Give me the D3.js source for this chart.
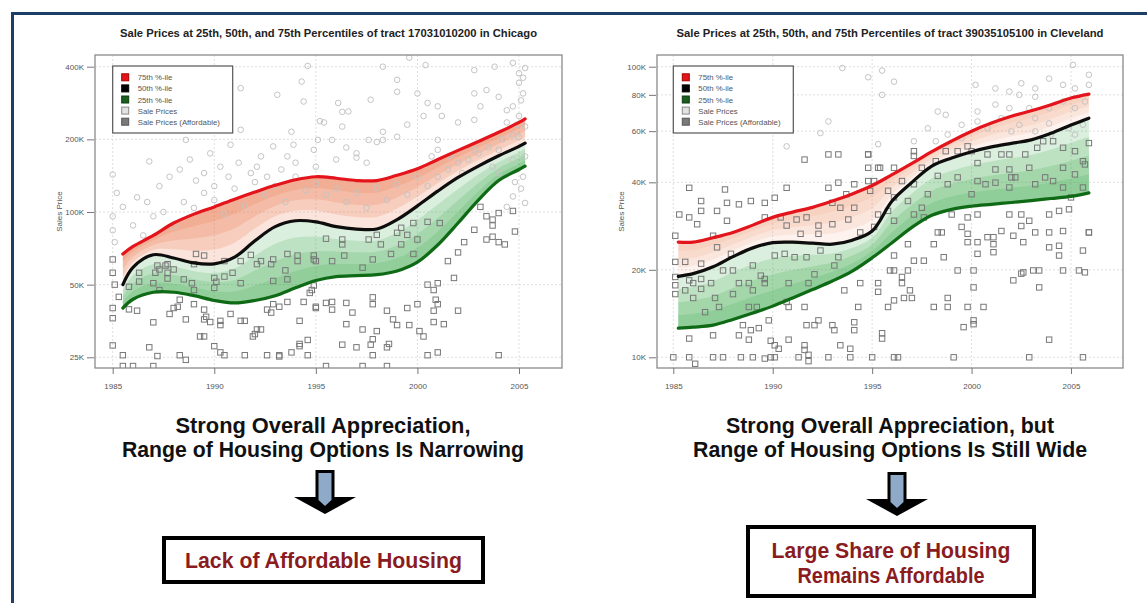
<!DOCTYPE html>
<html>
<head>
<meta charset="utf-8">
<script src="https://cdn.jsdelivr.net/npm/d3@7"></script>
<style>
  body { margin: 0; background: #fff; }
  svg { display: block; }
</style>
</head>
<body>
<svg id="chart" width="1147" height="603"></svg>
<script>
// ---------- Chicago tract 17031010200 (prices in $K) ----------
const chicagoYears = [1985.5, 1986, 1987, 1988, 1989, 1990, 1991, 1992, 1993, 1994, 1995,
                      1996, 1997, 1998, 1999, 2000, 2001, 2002, 2003, 2004, 2005, 2005.3];
const chicagoP75 = [67, 72, 80, 90, 98, 105, 113, 121, 129, 136, 140,
                    138, 135, 135, 142, 151, 165, 180, 196, 214, 235, 243];
const chicagoP50 = [50, 59, 66.5, 64.5, 61.5, 61, 65, 76, 87, 92, 91,
                    87, 85, 85, 93, 106, 122, 139, 155, 171, 187, 193];
const chicagoP25 = [40, 43.5, 46.5, 46.5, 45, 43, 42, 43, 45, 48.5, 52,
                    54, 54.5, 55, 57, 62, 73, 90, 112, 135, 150, 155];

const chicagoSales = [
  [1985,143],[1985,96],[1985,84],[1985.1,75],[1985.5,105],[1985.2,120],[1986.2,115],[1986.7,110],
  [1986.8,162],[1987.3,128],[1987.8,140],[1988.3,150],[1988.6,199],[1988.8,165],[1989.1,135],
  [1989.5,145],[1989.8,175],[1990,128],[1990.3,154],[1990.7,140],[1990.8,190],[1991.2,160],
  [1991.3,219],[1991.3,326],[1991.8,145],[1992.1,154],[1992.3,170],[1992.6,140],[1992.9,187],
  [1993.1,306],[1993.3,150],[1993.6,170],[1993.8,215],[1993.9,190],[1994,160],[1994.3,347],
  [1994.4,287],[1994.6,403],[1994.9,181],[1995,154],[1995.1,199],[1995.2,238],
  [1986,88],[1986.5,80],[1987,96],[1987.5,100],[1988,87],[1988.5,110],[1989,104],[1989.5,120],
  [1990,112],[1990.5,98],[1991,125],[1991.5,106],[1992,133],[1992.5,118],[1993,128],[1993.5,110],
  [1994,140],[1994.5,123],[1995,131],[1995.5,118],[1996,125],[1996.5,110],[1997,120],[1997.5,104],
  [1998,126],[1998.5,112],[1999,130],[1999.5,118],[2000,140],
  [1996,165],[1996.5,185],[1997,175],[1997.5,160],[1998,195],[1998.3,215],[1999,205],[1999.5,230],
  [1996.3,260],[1997.7,292],[1998.3,400],[1999.6,436],[1999,315],[1999,353],[2000,310],[2000.5,283],
  [2001,274],[2000.3,250],[2001.2,250],[2002,235],[2002.8,241],[2003.1,274],[2003.4,320],[2002.8,310],
  [2002.8,387],[2003.8,400],[2004,300],[2004.4,264],[2004.7,415],[2004.7,274],[2005,376],[2005,343],
  [2005.2,310],[2005,250],[2005.3,226],[2005,205],[2004.7,208],[2004.4,235],[2000.4,406],[2001,199],
  [2001,181],[2001.6,171],[2000.7,170],[2002.8,181],[2004,181],[2004.7,165],[2005.3,170],[2003.7,154],
  [2004,145],[2004.8,133],[2004.7,116],[2004.4,105],[2005.3,109],[1998.3,199],[1997.6,199],[1997,168],
  [1996.3,226],[1995.8,199],[1995.4,235],[1996.6,261],[1996.1,283],[2005.1,290],[2005.2,360],
  [2005.3,395],[2004.9,230],[2005.2,140],[2005.1,125],
  [2001,140],[2001.5,150],[2002,160],[2002.5,165],[2003,175],[2003.5,185],[2004.2,200],[2002.2,145],[2000.5,128]
];

const chicagoAffordable = [
  [1985,63.6],[1985,56],[1985.1,50],[1985.3,44.5],[1985,40],[1985,36.3],[1985,28],[1985.5,25.5],
  [1985.5,23],[1986,23],[1985.8,39.5],[1986.2,39],[1986.3,51.5],[1986.3,56],[1985.8,49],[1987,50.7],
  [1987.1,56],[1987.2,60],[1987.6,60],[1987.7,56],[1987.7,53],[1987.3,47.5],[1987,34.9],[1986.8,27.5],
  [1987.2,25.3],[1987,23],[1987.8,37.8],[1988,40],[1988.2,40.5],[1988.3,43.3],[1988.5,52.6],[1988,57.8],
  [1988.9,50.7],[1989,47.5],[1988.6,35.9],[1989,41.5],[1989.5,39.4],[1989.5,35.9],[1989.6,36.8],
  [1989.8,35],[1990.3,35.4],[1990.3,34],[1990,53.3],[1990,48.5],[1990.1,51.4],[1990.5,54],[1990.9,56],
  [1991.3,50.7],[1990.8,37.8],[1991.3,35.4],[1991.5,35.4],[1989.3,30.5],[1989.5,30.5],[1990,27.8],
  [1990.3,26.2],[1990.5,25.5],[1988.3,25.5],[1988.6,24.4],[1991.5,25.5],[1991.9,30.5],[1992.1,32.6],
  [1992,31.2],[1992.3,32.6],[1992.6,25.5],[1993.2,25.5],[1993.2,25.2],[1993.8,26.2],[1994.2,28.4],
  [1994.6,29.5],[1994.2,27.8],[1994.6,25.5],[1992.8,38.3],[1992.6,39.4],[1992.9,41.5],[1993.2,40.5],
  [1993.6,42.4],[1994.2,35.4],[1994.4,42.4],[1994.7,46.2],[1995,40.5],[1994.9,49.6],
  [1991.8,66.4],[1992.1,60.8],[1992.8,60.8],[1992.9,63.6],[1993.6,67],[1994.1,66],[1994.1,62.6],
  [1994.9,63.6],[1995,62.6],[1993.5,57.3],[1993.6,52.6],[1992.9,51.8],[1992.3,62.6],[1991.3,62.6],
  [1990.5,62.6],[1989.1,67],[1989.5,66],[1989,60.8],[1987.7,60.8],[1987.3,57.8],
  [1995.5,77.5],[1996.3,76.9],[1996.3,73.4],[1997.6,76.9],[1998,80.4],[1998.2,73.4],[1999,82],
  [1999.5,80.4],[1999.2,73.4],[2000,76.9],[1999.8,67],[1998.7,67],[1997.8,63.6],[1997.3,58.8],
  [1996.4,66],[1995.8,62.6],[1994.9,66],[1994.8,47.5],[1995,40],[1995.5,42],[1995.8,42.4],[1995.8,39.4],
  [1996.5,42],[1996.8,38.3],[1996.5,34.3],[1996.3,28.2],[1997,27.5],[1997.3,32.6],[1997.8,44.3],
  [1997.8,41.5],[1998,32.1],[1997.8,29.7],[1997.7,28.2],[1997.8,25.5],[1998.5,39],[1998.6,28.4],
  [1998.5,27.5],[1998.8,35.9],[1999,34],[1999.5,40],[1999.6,34],[2000.1,32.1],[2000.3,30.5],
  [2000.5,25.5],[2001,26.2],[2000.8,47.5],[2000.9,43.3],[2001,41.5],[2000.8,39],[2000.8,35],
  [2001.3,34.3],[2000,41.5],[2000.5,50],[2001,50.7],[2001.8,53.3],[2001.5,62.6],[2002,68],[2002.3,75],
  [2002,39],[2002.8,84.4],[2003.4,76.9],[2003.7,79],[2004,75],[2004.3,73.4],[2004.8,83],[2004,25.5],
  [1995.5,23],[1997.3,23],[1998.5,23],
  [2003.1,105],[2003.4,96],[2003.7,93],[2004,99],[2004.7,101],[2003.7,87.9],[2001.1,90],[2000.5,91],
  [1999.2,86],[1999.8,90]
];

// ---------- Cleveland tract 39035105100 (prices in $K) ----------
const clevelandYears = [1985.25, 1986, 1987, 1988, 1989, 1990, 1991, 1992, 1993, 1994, 1995,
                        1996, 1997, 1998, 1999, 2000, 2001, 2002, 2003, 2004, 2005, 2005.9];
const clevelandP75 = [24.9, 24.9, 25.8, 26.9, 28.5, 30.3, 31.6, 32.8, 34.5, 36.5, 39,
                      42.5, 46.5, 51, 55.5, 60, 64, 67.5, 70.5, 74, 78, 80.5];
const clevelandP50 = [19, 19.4, 20.5, 22.2, 23.8, 24.8, 24.9, 24.7, 24.5, 25.3, 27.2,
                      34.5, 40, 45.5, 48.5, 51, 53, 54.5, 56, 59, 63, 66.5];
const clevelandP25 = [12.6, 12.7, 12.9, 13.5, 14.2, 15, 16, 17.1, 18.3, 19.8, 22,
                      24.8, 28, 30.8, 32.3, 33.1, 33.6, 34.1, 34.6, 35.2, 35.8, 36.8];

const clevelandSales = [
  [1996.1,88.8],[2000.2,86.6],[2001.2,84.2],[2001.9,82.1],[2002.5,87.7],[2003.2,84.2],[2003.9,91],
  [2004.6,86.6],[2005.2,84.2],[2005.1,101.5],[2005.9,93.8],[2005.9,86.6],[2002.4,80],[2003.2,78.8],
  [2004.6,75.9],[2003.9,72],[2002.9,72],[2001.9,72],[2001.2,74.1],[2000.3,70.1],[1998.3,70.1],
  [1998.7,68.3],[1999.5,63.1],[2000.3,64.8],[2001.5,66.5],[2002.4,63.1],[2003.2,66.5],[2003.9,63.8],
  [2004.9,61.4],[2005.6,63.1],[2005.7,75.9],[2005.2,72],[1997.8,61.4],[1998.8,58.4],[1997.1,55.4],
  [1998.2,55.4],[1999.5,56.7],[2000.8,61.4],[2002,59.9],[2003.2,59.9],[2004,58.4],[2005.2,58.4],
  [1990.7,86.6],[1992.8,64.8],[1992.4,59.1],[1990.7,53.2],[1995.3,54.1],[1995.5,80],[1993.5,99],
  [1994.8,92],[1995.5,97],[1990.5,97]
];

const clevelandAffordable = [
  [1985.8,38.3],[1985.3,31],[1985.8,30.3],[1985.1,26.2],[1986.4,34.5],[1986.4,31.9],[1986.2,28.7],
  [1987.2,31.9],[1987.7,29.5],[1987,26.2],[1987.7,34],[1987.6,37.8],[1988.3,33.6],[1988.9,34.5],
  [1989.6,34],[1990.1,35.4],[1990.7,38.3],[1989.6,30.3],[1990.4,30.3],[1990.7,28.4],[1991.2,29.8],
  [1991.7,30.3],[1991.4,26.6],[1992.3,28.4],[1992.8,38.3],[1993.3,39.9],[1993,34],[1993.7,36.4],
  [1994.1,39.4],[1994.8,40.4],[1994.8,44.9],[1995.4,44.9],[1991.6,47.9],[1992.8,49.9],[1993.3,49.9],
  [1994.8,49.9],[1993.4,32.7],[1994.1,32.7],[1993,28.7],[1993.8,29.8],[1994.4,26.9],[1992.3,26.6],
  [1985.1,21.3],[1985.1,18.9],[1985.1,17.7],[1985.1,16.5],[1985.6,17],[1985.8,18.4],[1986.4,17.2],
  [1986,16],[1985.8,11.6],[1985,10],[1985.8,10],[1986.1,9.5],[1987,10],[1987.5,10],[1988.4,10],
  [1989,10],[1989.6,9.9],[1989.9,10],[1990.1,10],[1991.3,10],[1991.8,10.2],[1991.8,9.7],[1992.8,10],
  [1993.9,10],[1987,11.9],[1988.3,11.9],[1988.8,11.5],[1988.5,12.9],[1989.3,12.6],[1989.9,11.4],
  [1990.1,11],[1990.3,10.7],[1990.8,11.5],[1991.6,11],[1991.6,10.6],[1991.7,12.9],[1992.1,12.9],
  [1992.3,13.4],[1993,12.9],[1993.1,12.4],[1993.4,11],[1993.9,10.7],[1994.1,13.2],[1994.1,12.4],
  [1990.7,15.5],[1990.8,14.9],[1991.6,14.9],[1989.8,13.4],[1988.9,12.4],
  [1986,18],[1986.9,18],[1987.1,16],[1986.6,14.3],[1987.3,14.9],[1988,16.5],[1988.3,18],[1988.8,18],
  [1989,17],[1988.8,14.9],[1989.2,14.9],[1989.4,19.1],[1989.6,18.6],[1989.6,18],[1990.8,18],
  [1992.1,19.3],[1991.8,18],[1993.1,20.7],[1993.3,22.1],[1993.6,17],[1994.4,18],[1994.3,14.9],
  [1991.7,22.1],[1992.4,23.3],[1991.1,22.1],[1990.6,22.7],[1990.1,22.4],[1989,20.7],[1988,19.9],
  [1987.5,19.9],[1986.4,21],[1986.4,18.6],[1985.6,21.3],[1987.2,23.9],[1987.9,22.7],
  [1994.8,49.9],[1995.3,44.9],[1996.1,44.9],[1997.1,51.2],[1997.1,49.3],[1998.7,51.2],[1999.3,51.2],
  [1999.8,53.2],[2000,51.2],[2000.3,46.6],[2000.8,49.9],[2001.5,49.9],[2001.9,49.9],[2002.7,49.9],
  [2003.3,52.6],[2003.6,55.4],[2004.1,55.4],[2004.6,52.6],[2005.2,51.2],[2005.9,54.6],[2005.6,47.3],
  [2005.7,46.1],[2001.9,44.3],[2001.2,44.3],[2002.9,44.9],[2003.7,41.6],[2004.6,44.9],[2005.2,42.6],
  [2004.6,38.4],[2002,41.6],[2002.2,41.6],[2003.2,39.4],[2004.1,40.4],[2005,35.5],[2005.6,38.4],
  [2001.9,38.4],[2001.2,39.9],[2000.3,40.4],[2000,36.4],[2000.7,39.4],[1999.3,41.6],[1998.8,39.4],
  [1998.3,42.1],[1998.2,47.3],[1997.5,44.9],[1997.8,36.4],[1997.1,39.4],[1996.5,40.4],[1995.8,37.4],
  [1995.1,40.4],[1994.9,37.4],[1996.8,34.5],[1996.1,35.5],[1997.5,32.7],[1997.1,31],[1997.6,30.3],
  [1995.8,31.9],[1995.3,31],[1995.1,28.1],[1996.1,29.5],[1999,31],[1999.5,28.1],[1999.8,30.3],
  [2000.3,31],[2001.9,31],[2002.5,31],[2002.9,29.5],[2003.9,31],[2004.4,31.9],[2004.9,32.3],
  [2001.5,27.2],[2002.5,28.3],[2003.2,26.9],[2003.9,26.9],[2004.6,27.2],[2005.9,26.9],[2000.8,25.9],
  [1999.8,26.6],[1998.5,26.9],
  [1996.1,22.4],[1997.1,21.5],[1997.6,21.5],[1998.6,22.1],[1998.1,24.5],[1996.8,24.5],[1998.3,26.9],
  [1999.8,24.9],[2000.3,24.9],[2001.1,25.9],[2001.1,24.5],[2000.3,22.7],[2001.1,23],[2002.1,26.2],
  [2002.6,24.9],[2003.9,23.9],[2004.4,24.2],[2004.4,22.4],[2005.6,23.3],[2005.9,26.9],[1995.9,19.9],
  [1996.1,19.9],[1996.8,19.9],[1996.5,18.9],[1996.5,18],[1996.9,17],[1996.1,15.7],[1996.6,16],
  [1997,16],[1995.8,14.9],[1995.3,18],[1995.3,16.8],[1995.5,12.1],[1995.5,11.6],[1995,10],[1996.1,10],
  [1996.3,10],[1999.1,10],[2002.9,10],[2005.6,10],[1999.3,19.9],[2000.1,19.9],[2000.1,17.4],
  [1998.8,16],[1998.8,14.9],[1998.1,14.9],[1999.8,14.9],[2000.6,14.9],[1999.6,12.7],[2000.1,13],
  [2000.1,13.4],[2002.1,18.4],[2002.5,19.4],[2002.6,19.6],[2003.1,19.9],[2003.4,19.9],[2003.4,17.4],
  [2004.6,19.9],[2005.4,19.9],[2005.7,19.6],[2003.9,11.5]
];

// ---------- shared axis / legend text ----------
const xTickYears = [1985, 1990, 1995, 2000, 2005];
const chicagoYTicks = [25, 50, 100, 200, 400];
const clevelandYTicks = [10, 20, 40, 60, 80, 100];
const legendLabels = ["75th %-ile", "50th %-ile", "25th %-ile", "Sale Prices", "Sale Prices (Affordable)"];

const panels = [
  {
    id: "chi",
    title: "Sale Prices at 25th, 50th, and 75th Percentiles of tract 17031010200 in Chicago",
    titleWidth: 417,
    years: chicagoYears, p75: chicagoP75, p50: chicagoP50, p25: chicagoP25,
    sales: chicagoSales, affordable: chicagoAffordable,
    yTicks: chicagoYTicks, yDomain: [25, 400],
    box: { x0: 95, x1: 562, y0: 55, y1: 368 },
    xRange: [112.7, 519], yRange: [357.3, 66.7],
    orange: { color: "#ec7a4c", opacity: 0.2 },
    green: { color: "#3aa84a", opacity: 0.18 }
  },
  {
    id: "cle",
    title: "Sale Prices at 25th, 50th, and 75th Percentiles of tract 39035105100 in Cleveland",
    titleWidth: 427,
    years: clevelandYears, p75: clevelandP75, p50: clevelandP50, p25: clevelandP25,
    sales: clevelandSales, affordable: clevelandAffordable,
    yTicks: clevelandYTicks, yDomain: [10, 100],
    box: { x0: 657, x1: 1123, y0: 55, y1: 368 },
    xRange: [673.3, 1071], yRange: [357.3, 66.7],
    orange: { color: "#f08a5c", opacity: 0.11 },
    green: { color: "#3aa84a", opacity: 0.19 }
  }
];

const svg = d3.select("#chart");
const FONT = "'Liberation Sans', Arial, Helvetica, sans-serif";

// outer frame
svg.append("path")
  .attr("d", "M12.5,610 L12.5,13.5 L1160,13.5")
  .attr("fill", "none").attr("stroke", "#1d3f66").attr("stroke-width", 3);

panels.forEach(p => {
  const g = svg.append("g");
  const b = p.box;
  const x = d3.scaleLinear().domain([1985, 2005]).range(p.xRange);
  const y = d3.scaleLog().domain(p.yDomain).range(p.yRange);

  // chart title
  g.append("text")
    .attr("x", (b.x0 + b.x1) / 2).attr("y", 37)
    .attr("text-anchor", "middle")
    .attr("font-family", FONT).attr("font-size", 10).attr("font-weight", "bold")
    .attr("fill", "#222")
    .attr("textLength", p.titleWidth).attr("lengthAdjust", "spacingAndGlyphs")
    .text(p.title);

  // clip to the plot box
  g.append("clipPath").attr("id", "clip-" + p.id)
    .append("rect").attr("x", b.x0).attr("y", b.y0)
    .attr("width", b.x1 - b.x0).attr("height", b.y1 - b.y0);

  // grid
  const grid = g.append("g").attr("stroke", "#dedede").attr("stroke-width", 1)
    .attr("stroke-dasharray", "2,2");
  grid.selectAll("line.h").data(p.yTicks).join("line")
    .attr("x1", b.x0).attr("x2", b.x1)
    .attr("y1", d => y(d)).attr("y2", d => y(d));
  grid.selectAll("line.v").data(xTickYears).join("line")
    .attr("y1", b.y0).attr("y2", b.y1)
    .attr("x1", d => x(d)).attr("x2", d => x(d));

  const plot = g.append("g").attr("clip-path", `url(#clip-${p.id})`);

  // shaded quantile bands: stacked translucent layers, densest near the outer quantile line
  const mix = (a, c, f) => Math.exp(Math.log(a) + (Math.log(c) - Math.log(a)) * f);
  const idx = d3.range(p.years.length);
  const layers = [0.25, 0.5, 0.75, 1.0];
  layers.forEach(f => {
    plot.append("path")
      .datum(idx)
      .attr("fill", p.orange.color).attr("fill-opacity", p.orange.opacity)
      .attr("d", d3.area().curve(d3.curveCatmullRom)
        .x(i => x(p.years[i]))
        .y0(i => y(p.p75[i]))
        .y1(i => y(mix(p.p75[i], p.p50[i], f))));
    plot.append("path")
      .datum(idx)
      .attr("fill", p.green.color).attr("fill-opacity", p.green.opacity)
      .attr("d", d3.area().curve(d3.curveCatmullRom)
        .x(i => x(p.years[i]))
        .y0(i => y(p.p25[i]))
        .y1(i => y(mix(p.p25[i], p.p50[i], f))));
  });

  // sale prices (non-affordable) as light circles
  plot.append("g").selectAll("circle").data(p.sales).join("circle")
    .attr("cx", d => x(d[0])).attr("cy", d => y(d[1])).attr("r", 2.8)
    .attr("fill", "none").attr("stroke", "#c4c4c4").attr("stroke-width", 1);

  // affordable sale prices as darker squares
  plot.append("g").selectAll("rect").data(p.affordable).join("rect")
    .attr("x", d => x(d[0]) - 2.7).attr("y", d => y(d[1]) - 2.7)
    .attr("width", 5.4).attr("height", 5.4)
    .attr("fill", "none").attr("stroke", "#777").attr("stroke-width", 1);

  // quantile lines
  const series = [
    { vals: p.p75, color: "#e3141b" },
    { vals: p.p50, color: "#0d0d0d" },
    { vals: p.p25, color: "#0f6a16" }
  ];
  series.forEach(s => {
    plot.append("path").datum(idx)
      .attr("fill", "none").attr("stroke", s.color).attr("stroke-width", 3.2)
      .attr("stroke-linecap", "round")
      .attr("d", d3.line().curve(d3.curveCatmullRom)
        .x(i => x(p.years[i])).y(i => y(s.vals[i])));
  });

  // plot frame
  g.append("rect").attr("x", b.x0).attr("y", b.y0)
    .attr("width", b.x1 - b.x0).attr("height", b.y1 - b.y0)
    .attr("fill", "none").attr("stroke", "#8a8a8a").attr("stroke-width", 1.3);

  // axes
  const yAxis = g.append("g").attr("transform", `translate(${b.x0 - 1},0)`)
    .call(d3.axisLeft(y).tickValues(p.yTicks).tickFormat(d => d + "K").tickSize(7).tickPadding(3));
  const xAxis = g.append("g").attr("transform", `translate(0,${b.y1})`)
    .call(d3.axisBottom(x).tickValues(xTickYears).tickFormat(d3.format("d")).tickSize(6).tickPadding(9));
  [yAxis, xAxis].forEach(a => {
    a.select(".domain").remove();
    a.selectAll("line").attr("stroke", "#777");
    a.selectAll("text").attr("font-family", FONT).attr("font-size", 8).attr("fill", "#555");
  });

  // y-axis title
  g.append("text")
    .attr("transform", `translate(${b.x0 - 33},${(b.y0 + b.y1) / 2}) rotate(-90)`)
    .attr("text-anchor", "middle")
    .attr("font-family", FONT).attr("font-size", 8).attr("fill", "#555")
    .text("Sales Price");

  // legend
  const lx = x(1985), ly = 66;
  const leg = g.append("g");
  leg.append("rect").attr("x", lx).attr("y", ly).attr("width", 120).attr("height", 67)
    .attr("fill", "#fff").attr("stroke", "#555").attr("stroke-width", 1.2);
  const sym = [
    { fill: "#e3141b", stroke: "#a00" },
    { fill: "#000", stroke: "#000" },
    { fill: "#1b5e20", stroke: "#0f3d12" },
    { fill: "#e2e2e2", stroke: "#8a8a8a" },
    { fill: "#7a7a7a", stroke: "#555" }
  ];
  legendLabels.forEach((lab, i) => {
    const cy = ly + 11.3 + i * 11.1;
    leg.append("rect").attr("x", lx + 9).attr("y", cy - 3.5).attr("width", 7).attr("height", 7)
      .attr("fill", sym[i].fill).attr("stroke", sym[i].stroke).attr("stroke-width", 1);
    leg.append("text").attr("x", lx + 25).attr("y", cy + 3)
      .attr("font-family", FONT).attr("font-size", 7.8).attr("fill", "#555").text(lab);
  });
});

// ---------- commentary beneath the charts ----------
const NARROW = "'Liberation Sans Narrow', 'Arial Narrow', 'Liberation Sans', Arial, sans-serif";
const captions = [
  { cx: 323, lines: [
      { t: "Strong Overall Appreciation,", y: 433, w: 295 },
      { t: "Range of Housing Options Is Narrowing", y: 457, w: 402 } ] },
  { cx: 890, lines: [
      { t: "Strong Overall Appreciation, but", y: 433, w: 328 },
      { t: "Range of Housing Options Is Still Wide", y: 457, w: 394 } ] }
];
captions.forEach(c => c.lines.forEach(l => {
  svg.append("text").attr("x", c.cx).attr("y", l.y)
    .attr("text-anchor", "middle").attr("font-family", NARROW)
    .attr("font-size", 22).attr("font-weight", "bold").attr("fill", "#111")
    .attr("textLength", l.w).attr("lengthAdjust", "spacingAndGlyphs")
    .text(l.t);
}));

// block arrows
const arrows = [{ cx: 325, top: 470 }, { cx: 897, top: 472 }];
arrows.forEach(a => {
  const c = a.cx, t = a.top;
  svg.append("path")
    .attr("d", `M${c - 9.5},${t} L${c + 9.5},${t} L${c + 9.5},${t + 27} L${c + 31},${t + 27}
               L${c},${t + 44} L${c - 31},${t + 27} L${c - 9.5},${t + 27} Z`)
    .attr("fill", "#000");
  svg.append("path")
    .attr("d", `M${c - 6.5},${t + 3} L${c + 6.5},${t + 3} L${c + 6.5},${t + 30}
               L${c},${t + 36} L${c - 6.5},${t + 30} Z`)
    .attr("fill", "#8fa9c9");
});

// conclusion boxes
const boxes = [
  { x: 164, y: 538, w: 319, h: 44, lines: [{ t: "Lack of Affordable Housing", y: 568, w: 277 }] },
  { x: 748, y: 527, w: 286, h: 69, lines: [
      { t: "Large Share of Housing", y: 558, w: 239 },
      { t: "Remains Affordable", y: 583, w: 187 } ] }
];
boxes.forEach(bx => {
  svg.append("rect").attr("x", bx.x).attr("y", bx.y).attr("width", bx.w).attr("height", bx.h)
    .attr("fill", "#fff").attr("stroke", "#000").attr("stroke-width", 4);
  bx.lines.forEach(l => {
    svg.append("text").attr("x", bx.x + bx.w / 2).attr("y", l.y)
      .attr("text-anchor", "middle").attr("font-family", NARROW)
      .attr("font-size", 22).attr("font-weight", "bold").attr("fill", "#8a1c1f")
      .attr("textLength", l.w).attr("lengthAdjust", "spacingAndGlyphs")
      .text(l.t);
  });
});
</script>
</body>
</html>
